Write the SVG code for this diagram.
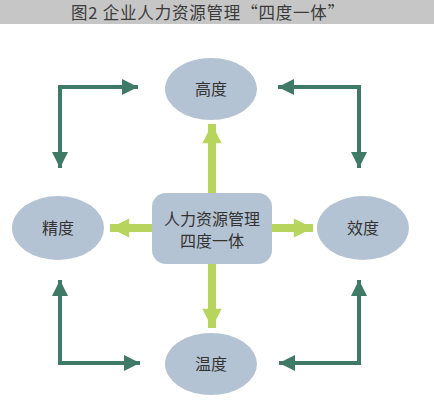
<svg xmlns="http://www.w3.org/2000/svg" width="434" height="400" viewBox="0 0 434 400">
<defs>
<style>
.node{fill:#b4c3d3;}
.lbl{font-family:"Noto Sans CJK SC","Noto Sans",sans-serif;font-size:16px;fill:#333;text-anchor:middle;}
.title{font-family:"Noto Sans CJK SC","Noto Sans",sans-serif;font-size:16.5px;fill:#3a3a3a;text-anchor:middle;letter-spacing:0.8px;}
.dk{fill:none;stroke:#3f7a66;stroke-width:4;marker-start:url(#ad);marker-end:url(#ad);}
.lm{fill:none;stroke:#b7d55c;stroke-width:8;marker-end:url(#al);}
</style>
<marker id="ad" viewBox="0 0 10 10" refX="10" refY="5" markerWidth="5" markerHeight="4" markerUnits="strokeWidth" orient="auto-start-reverse"><path d="M0,0 L10,5 L0,10 Z" fill="#3f7a66"/></marker>
<marker id="al" viewBox="0 0 10 10" refX="10" refY="5" markerWidth="2.8" markerHeight="2.4" markerUnits="strokeWidth" orient="auto"><path d="M0,0 L10,5 L0,10 Z" fill="#b7d55c"/></marker>
</defs>
<rect x="0" y="0" width="434" height="24" fill="#c6c6c6"/>
<text class="title" x="208" y="19">图2 企业人力资源管理“四度一体”</text>
<g id="connectors">
<path class="lm" d="M212,193 L212,124"/>
<path class="lm" d="M212,264 L212,328"/>
<path class="lm" d="M152,228 L110,228"/>
<path class="lm" d="M272,228 L313,228"/>
<path class="dk" d="M60,168 L60,87 L138,87"/>
<path class="dk" d="M278,87 L359,87 L359,168"/>
<path class="dk" d="M60,280 L60,363 L140,363"/>
<path class="dk" d="M279,363 L359,363 L359,280"/>
</g>
<g id="center">
<rect class="node" x="152" y="193" width="120" height="71" rx="14"/>
<text class="lbl" x="212" y="225">人力资源管理</text>
<text class="lbl" x="212" y="247">四度一体</text>
</g>
<g id="gaodu"><ellipse class="node" cx="211" cy="89" rx="46" ry="31"/><text class="lbl" x="211" y="95">高度</text></g>
<g id="jingdu"><ellipse class="node" cx="58" cy="228" rx="46" ry="32"/><text class="lbl" x="58" y="234">精度</text></g>
<g id="xiaodu"><ellipse class="node" cx="363" cy="228" rx="46" ry="32"/><text class="lbl" x="363" y="234">效度</text></g>
<g id="wendu"><ellipse class="node" cx="211" cy="364" rx="46" ry="31"/><text class="lbl" x="211" y="370">温度</text></g>
</svg>
